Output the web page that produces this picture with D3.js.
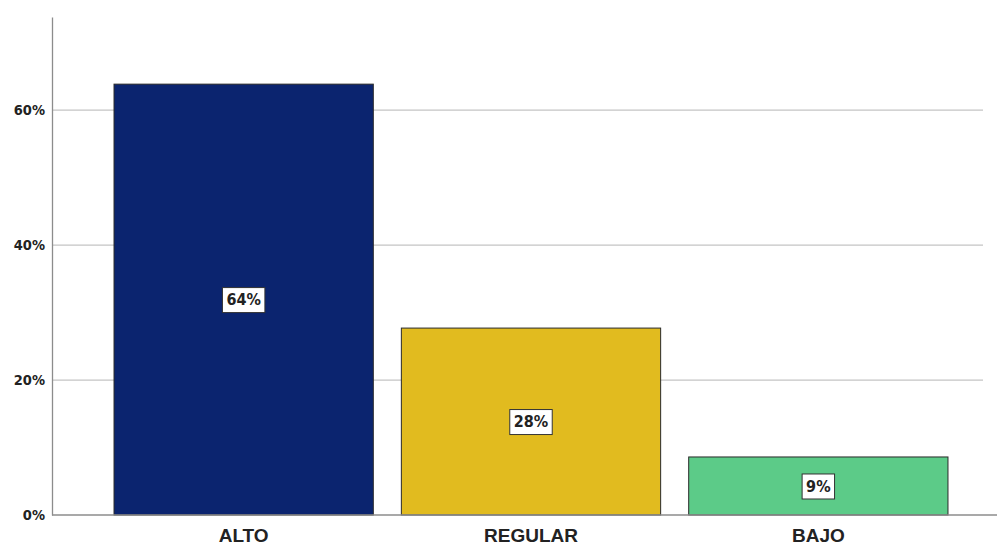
<!DOCTYPE html>
<html><head><meta charset="utf-8">
<script src="https://cdn.jsdelivr.net/npm/d3@7"></script>
<style>body{margin:0;background:#fff}</style>
</head><body>
<svg id="c" width="997" height="546"></svg>
<script>
const categories = ["ALTO", "REGULAR", "BAJO"];
const values = [63.85, 27.7, 8.6];
const valueLabels = ["64%", "28%", "9%"];
const colors = ["#0b246f", "#e1bb1f", "#5ccb88"];
const yTicks = [0, 20, 40, 60];

const svg = d3.select("#c");
const x = d3.scaleBand().domain(categories).range([100, 962]).paddingInner(0.0976).paddingOuter(0.0488);
const y = d3.scaleLinear().domain([0, 73.8]).range([515, 17]);

// gridlines
svg.append("g").selectAll("line").data(yTicks.filter(d => d > 0)).join("line")
  .attr("x1", 52).attr("x2", 983).attr("y1", d => y(d)).attr("y2", d => y(d))
  .attr("stroke", "#c4c4c4").attr("stroke-width", 1.2);

// bars
svg.append("g").selectAll("rect").data(categories).join("rect")
  .attr("x", d => x(d)).attr("width", x.bandwidth())
  .attr("y", (d, i) => y(values[i])).attr("height", (d, i) => y(0) - y(values[i]))
  .attr("fill", (d, i) => colors[i]).attr("stroke", "#2a2a2a").attr("stroke-width", 1);

// axes
const yAxis = d3.axisLeft(y).tickValues(yTicks).tickFormat(d => d + "%").tickSize(0).tickPadding(7);
const gy = svg.append("g").attr("transform", "translate(52,0)").call(yAxis);
gy.select(".domain").attr("stroke", "#8c8c8c").attr("stroke-width", 1.3);
gy.selectAll("text").attr("font-family", "'Liberation Sans Narrow','DejaVu Sans Condensed',sans-serif")
  .attr("font-weight", "bold").attr("font-size", 14.5).attr("fill", "#222");

const xAxis = d3.axisBottom(x).tickSize(0).tickPadding(14);
const gx = svg.append("g").attr("transform", "translate(0,515)").call(xAxis);
gx.select(".domain").remove();
gx.append("line").attr("x1", 52).attr("x2", 997).attr("y1", 0).attr("y2", 0)
  .attr("stroke", "#8c8c8c").attr("stroke-width", 1.3);
gx.selectAll("text").attr("font-family", "'Liberation Sans',Arial,sans-serif")
  .attr("font-weight", "bold").attr("font-size", 19).attr("fill", "#222");

// value labels
const lg = svg.append("g").selectAll("g").data(categories).join("g")
  .attr("transform", (d, i) => `translate(${x(d) + x.bandwidth() / 2},${(y(values[i]) + y(0)) / 2})`);
lg.each(function (d, i) {
  const g = d3.select(this);
  const t = g.append("text").text(valueLabels[i]).attr("text-anchor", "middle").attr("dy", "0.35em")
    .attr("font-family", "'Liberation Sans Narrow','DejaVu Sans Condensed',sans-serif")
    .attr("font-weight", "bold").attr("font-size", 16).attr("fill", "#222");
  const bb = t.node().getBBox();
  g.insert("rect", "text").attr("x", bb.x - 4).attr("y", -12).attr("width", bb.width + 8).attr("height", 25)
    .attr("fill", "#fff").attr("stroke", "#333").attr("stroke-width", 1);
});
</script>
</body></html>
